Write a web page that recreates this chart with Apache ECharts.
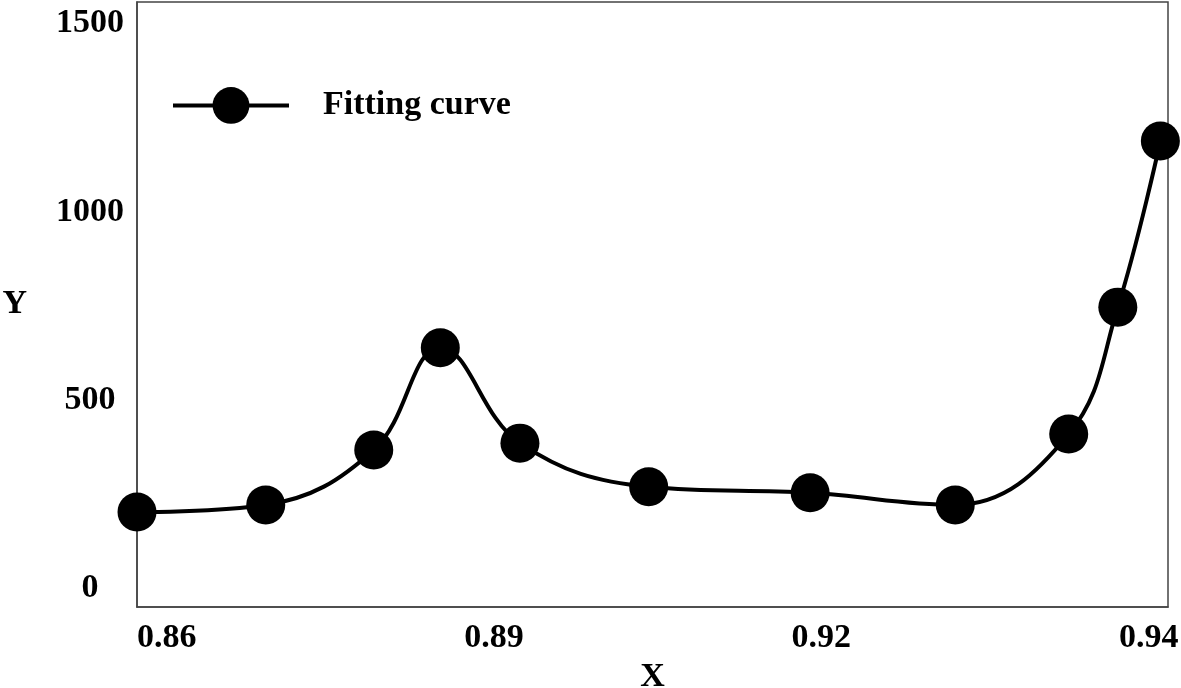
<!DOCTYPE html>
<html>
<head>
<meta charset="utf-8">
<style>
html,body{margin:0;padding:0;background:#fff;}
#chart{width:1181px;height:688px;}
</style>
<script src="https://cdn.jsdelivr.net/npm/echarts@6/dist/echarts.min.js"></script>
</head>
<body>
<div id="chart"></div>
<script>
// Data
const xValues = [0.8600, 0.8718, 0.8817, 0.8878, 0.8951, 0.9069, 0.9217, 0.9350, 0.9454, 0.9499, 0.9538];
const yValues = [203, 222, 368, 639, 386, 270, 254, 222, 410, 747, 1188];
const xTickValues = [0.86, 0.89, 0.92, 0.95];
const xTickLabels = ['0.86', '0.89', '0.92', '0.94'];
const yTickValues = [0, 500, 1000, 1500];
const seriesName = 'Fitting curve';

const font = 'Liberation Serif';
const chart = echarts.init(document.getElementById('chart'));
chart.setOption({
  animation: false,
  backgroundColor: '#fff',
  grid: {
    left: 137, right: 13, top: 2, bottom: 81,
    outerBoundsMode: 'none',
    containLabel: false,
    show: true, borderColor: '#444', borderWidth: 1.5
  },
  legend: {
    left: 166, top: 82,
    itemWidth: 116, itemHeight: 46,
    data: [seriesName],
    lineStyle: { width: 4, color: '#000' },
    textStyle: {
      fontFamily: font, fontWeight: 'bold', fontSize: 34, color: '#000',
      padding: [0, 0, 0, 29]
    }
  },
  xAxis: {
    type: 'value',
    min: 0.86, max: 0.9545,
    name: 'X',
    nameLocation: 'middle',
    nameGap: 48,
    nameTextStyle: { fontFamily: font, fontWeight: 'bold', fontSize: 34, color: '#000' },
    axisLine: { show: true, onZero: false, lineStyle: { color: '#444', width: 1.5 } },
    axisTick: { show: false },
    splitLine: { show: false },
    axisLabel: {
      customValues: xTickValues,
      showMinLabel: true, showMaxLabel: true,
      align: 'left',
      margin: 14,
      fontFamily: font, fontWeight: 'bold', fontSize: 34, color: '#000',
      formatter: function (v) {
        let k = 0;
        for (let i = 0; i < xTickValues.length; i++) {
          if (Math.abs(xTickValues[i] - v) < 1e-6) k = i;
        }
        return xTickLabels[k];
      }
    }
  },
  yAxis: {
    type: 'value',
    min: -49, max: 1557,
    name: 'Y',
    nameLocation: 'middle',
    nameRotate: 0,
    nameGap: 110,
    nameTextStyle: { fontFamily: font, fontWeight: 'bold', fontSize: 34, color: '#000' },
    axisLine: { show: true, onZero: false, lineStyle: { color: '#444', width: 1.5 } },
    axisTick: { show: false },
    splitLine: { show: false },
    axisLabel: {
      customValues: yTickValues,
      align: 'center',
      margin: 47,
      fontFamily: font, fontWeight: 'bold', fontSize: 34, color: '#000',
      formatter: function (v) { return String(v); }
    }
  },
  series: [{
    name: seriesName,
    type: 'line',
    data: xValues.map((x, i) => [x, yValues[i]]),
    smooth: 0.4,
    clip: false,
    symbol: 'circle',
    symbolSize: 39,
    itemStyle: { color: '#000' },
    lineStyle: { color: '#000', width: 4 }
  }]
});
</script>
</body>
</html>
